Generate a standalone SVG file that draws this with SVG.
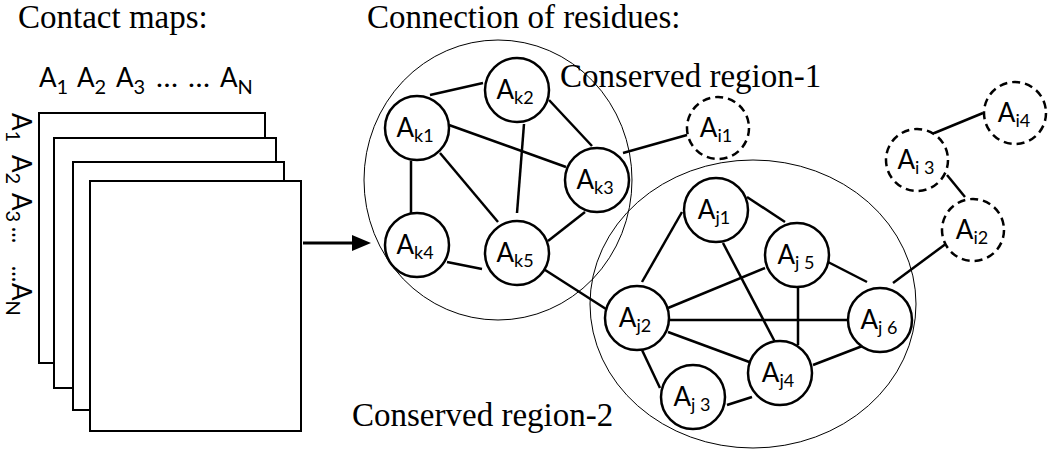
<svg xmlns="http://www.w3.org/2000/svg" width="1050" height="450" viewBox="0 0 1050 450">
<style>
.title{font-family:"Liberation Serif","Times New Roman",serif;font-size:33px;fill:#000}
.lab{font-family:Lato,"Open Sans",sans-serif;font-size:26px;fill:#000}
.sub{font-size:18px}
.hsub{font-size:20px}
.node{fill:#fff;stroke:#000;stroke-width:2.5}
.dash{fill:#fff;stroke:#000;stroke-width:2.5;stroke-dasharray:8 5}
.region{fill:none;stroke:#000;stroke-width:1}
.map{fill:#fff;stroke:#000;stroke-width:2}
#connectors line{stroke:#000;stroke-width:2.5}
</style>
<rect width="1050" height="450" fill="#fff"/>
<text class="title" x="18" y="28">Contact maps:</text>
<text class="title" x="367" y="28">Connection of residues:</text>
<g id="maps">
<rect class="map" x="39" y="113" width="226" height="250"/>
<rect class="map" x="54" y="138" width="222" height="250"/>
<rect class="map" x="73" y="162" width="211" height="248"/>
<rect class="map" x="90" y="181" width="211" height="250"/>
</g>
<g id="col-labels" class="lab">
<text x="39" y="87">A<tspan class="hsub" dy="7">1</tspan></text>
<text x="77" y="87">A<tspan class="hsub" dy="7">2</tspan></text>
<text x="116" y="87">A<tspan class="hsub" dy="7">3</tspan></text>
<text x="156" y="87" textLength="22" lengthAdjust="spacingAndGlyphs">…</text>
<text x="188" y="87" textLength="22" lengthAdjust="spacingAndGlyphs">…</text>
<text x="220" y="87">A<tspan class="hsub" dy="7">N</tspan></text>
</g>
<g id="row-labels" class="lab" transform="translate(12,113) rotate(90)">
<text x="0" y="0">A<tspan class="hsub" dy="6">1</tspan></text>
<text x="42" y="0">A<tspan class="hsub" dy="6">2</tspan></text>
<text x="80" y="0">A<tspan class="hsub" dy="6">3</tspan></text>
<text x="114" y="0" textLength="16" lengthAdjust="spacingAndGlyphs">…</text>
<text x="153" y="0" textLength="16" lengthAdjust="spacingAndGlyphs">…</text>
<text x="170" y="0">A<tspan class="hsub" dy="6">N</tspan></text>
</g>
<g id="arrow">
<line x1="303" y1="243" x2="356" y2="243" stroke="#000" stroke-width="3"/>
<polygon points="352,235 371,243 352,251" fill="#000"/>
</g>
<ellipse class="region" cx="498" cy="180" rx="134" ry="140"/>
<ellipse class="region" cx="753" cy="304" rx="163" ry="144"/>
<text class="title" x="560" y="87">Conserved region-1</text>
<text class="title" x="352" y="426">Conserved region-2</text>
<g id="connectors">
<line x1="430" y1="95" x2="483" y2="83"/>
<line x1="449" y1="125" x2="566" y2="167"/>
<line x1="411" y1="161" x2="411" y2="213"/>
<line x1="440" y1="153" x2="498" y2="222"/>
<line x1="524" y1="124" x2="517" y2="213"/>
<line x1="549" y1="100" x2="592" y2="146"/>
<line x1="585" y1="212" x2="548" y2="241"/>
<line x1="447" y1="262" x2="482" y2="269"/>
<line x1="542" y1="268" x2="606" y2="309"/>
<line x1="623" y1="153" x2="687" y2="135"/>
<line x1="642" y1="282" x2="682" y2="212"/>
<line x1="668" y1="308" x2="765" y2="268"/>
<line x1="667" y1="320" x2="848" y2="320"/>
<line x1="668" y1="332" x2="752" y2="363"/>
<line x1="642" y1="350" x2="660" y2="388"/>
<line x1="723" y1="243" x2="775" y2="342"/>
<line x1="747" y1="197" x2="785" y2="222"/>
<line x1="798" y1="288" x2="798" y2="345"/>
<line x1="828" y1="262" x2="867" y2="282"/>
<line x1="813" y1="365" x2="865" y2="345"/>
<line x1="727" y1="405" x2="752" y2="397"/>
<line x1="893" y1="283" x2="947" y2="243"/>
<line x1="947" y1="175" x2="965" y2="197"/>
<line x1="932" y1="134" x2="983" y2="113"/>
</g>
<g id="Ak1"><circle class="node" cx="417" cy="128" r="32"/><text class="lab" x="415" y="137" text-anchor="middle">A<tspan class="sub" dy="5">k1</tspan></text></g>
<g id="Ak2"><circle class="node" cx="517" cy="90" r="32"/><text class="lab" x="515" y="99" text-anchor="middle">A<tspan class="sub" dy="5">k2</tspan></text></g>
<g id="Ak3"><circle class="node" cx="597" cy="180" r="32"/><text class="lab" x="595" y="189" text-anchor="middle">A<tspan class="sub" dy="5">k3</tspan></text></g>
<g id="Ak4"><circle class="node" cx="417" cy="245" r="32"/><text class="lab" x="415" y="254" text-anchor="middle">A<tspan class="sub" dy="5">k4</tspan></text></g>
<g id="Ak5"><circle class="node" cx="517" cy="253" r="32"/><text class="lab" x="515" y="262" text-anchor="middle">A<tspan class="sub" dy="5">k5</tspan></text></g>
<g id="Ai1"><circle class="dash" cx="718" cy="128" r="31"/><text class="lab" x="716" y="137" text-anchor="middle">A<tspan class="sub" dy="5">i1</tspan></text></g>
<g id="Aj1"><circle class="node" cx="716" cy="210" r="32"/><text class="lab" x="714" y="219" text-anchor="middle">A<tspan class="sub" dy="5">j1</tspan></text></g>
<g id="Aj5"><circle class="node" cx="797" cy="255" r="32"/><text class="lab" x="796" y="264" text-anchor="middle">A<tspan class="sub" dy="5" xml:space="preserve">j 5</tspan></text></g>
<g id="Aj2"><circle class="node" cx="637" cy="318" r="32"/><text class="lab" x="635" y="327" text-anchor="middle">A<tspan class="sub" dy="5">j2</tspan></text></g>
<g id="Aj6"><circle class="node" cx="880" cy="320" r="32"/><text class="lab" x="879" y="329" text-anchor="middle">A<tspan class="sub" dy="5" xml:space="preserve">j 6</tspan></text></g>
<g id="Aj4"><circle class="node" cx="780" cy="373" r="32"/><text class="lab" x="778" y="382" text-anchor="middle">A<tspan class="sub" dy="5">j4</tspan></text></g>
<g id="Aj3"><circle class="node" cx="693" cy="397" r="32"/><text class="lab" x="692" y="406" text-anchor="middle">A<tspan class="sub" dy="5" xml:space="preserve">j 3</tspan></text></g>
<g id="Ai4"><circle class="dash" cx="1015" cy="113" r="31"/><text class="lab" x="1014" y="122" text-anchor="middle">A<tspan class="sub" dy="5">i4</tspan></text></g>
<g id="Ai3"><circle class="dash" cx="917" cy="160" r="31"/><text class="lab" x="916" y="169" text-anchor="middle">A<tspan class="sub" dy="5" xml:space="preserve">i 3</tspan></text></g>
<g id="Ai2"><circle class="dash" cx="973" cy="230" r="31"/><text class="lab" x="972" y="239" text-anchor="middle">A<tspan class="sub" dy="5">i2</tspan></text></g>
</svg>
